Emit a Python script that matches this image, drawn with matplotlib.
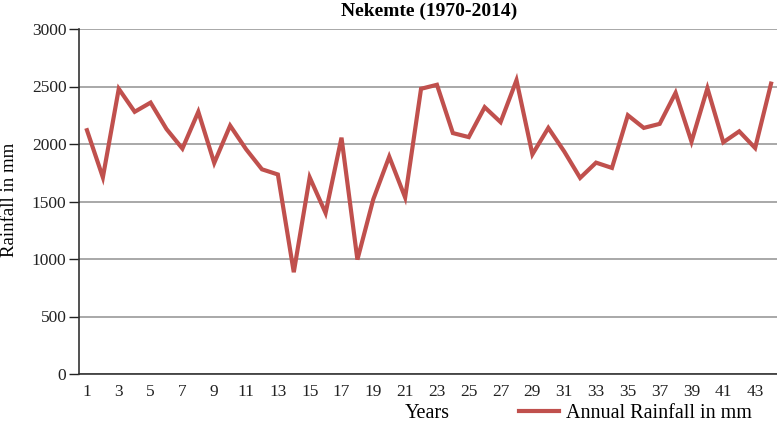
import matplotlib
matplotlib.use("Agg")
import matplotlib.pyplot as plt

# Nekemte annual rainfall, years numbered 1..44
years = list(range(1, 45))
rainfall = [2120, 1710, 2480, 2280, 2360, 2130, 1960, 2280, 1835, 2160,
            1955, 1780, 1735, 885, 1710, 1400, 2055, 995, 1520, 1890,
            1535, 2480, 2515, 2095, 2060, 2320, 2190, 2555, 1910, 2140,
            1935, 1705, 1838, 1792, 2250, 2140, 2175, 2445, 2020, 2485,
            2015, 2110, 1965, 2525]
xtick_labels = [str(i) for i in range(1, 44, 2)]

plt.rcParams['font.family'] = ['Liberation Serif', 'DejaVu Serif']

fig = plt.figure(figsize=(7.77, 4.24), dpi=100)
ax = fig.add_axes([79 / 777, 50 / 424, 700 / 777, 345 / 424])

ax.plot(years, rainfall, color='#c0504d', linewidth=3, label='Annual Rainfall in mm',
        solid_joinstyle='miter')

ax.set_xlim(0.5, 44.5)
ax.set_ylim(0, 3000)
ax.set_yticks(range(0, 3001, 500))
ax.set_xticks(range(1, 44, 2))
ax.set_xticklabels(xtick_labels)
ax.tick_params(axis='both', labelsize=12.5, colors='#222222')
ax.tick_params(axis='x', length=0, pad=7)
ax.tick_params(axis='y', length=7, width=1, pad=2)
ax.grid(axis='y', color='#9a9a9a', linewidth=1.2)
ax.set_axisbelow(True)

for side in ['top', 'right']:
    ax.spines[side].set_visible(False)
ax.spines['left'].set_color('#333333')
ax.spines['bottom'].set_color('#333333')
ax.spines['left'].set_linewidth(1.2)
ax.spines['bottom'].set_linewidth(1.2)

fig.text(429 / 777, 1 - 11 / 424, 'Nekemte (1970-2014)', ha='center', va='center',
         fontsize=14, fontweight='bold')
fig.text(1 / 777, 1 - 200 / 424, 'Rainfall in mm', rotation=90, ha='left',
         va='center', fontsize=13.5)
fig.text(427 / 777, 1 - 413 / 424, 'Years', ha='center', va='center', fontsize=14.5)

fig.legend(loc='center left', bbox_to_anchor=(519 / 777, 1 - 413 / 424), frameon=False,
           fontsize=14.5, handlelength=2.0, handletextpad=0.35, borderaxespad=0,
           borderpad=0)

fig.savefig('out.png', dpi=100)
